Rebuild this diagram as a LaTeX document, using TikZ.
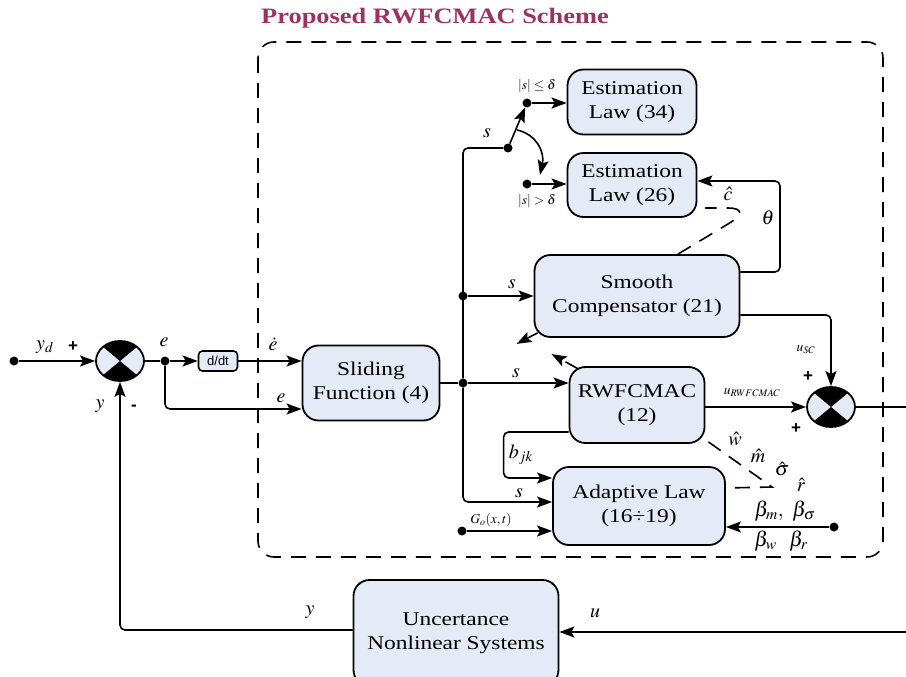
\documentclass[tikz,border=0pt]{standalone}
\usepackage{amsmath}
\usepackage{mathptmx}
\usepackage{fontspec}
\setmainfont[FakeStretch=1.2]{Liberation Serif}
\setsansfont{Liberation Sans}
\usetikzlibrary{arrows.meta, positioning, shapes.geometric}
\definecolor{blockfill}{RGB}{228,235,246}
\definecolor{titlered}{RGB}{155,50,100}

\begin{document}
\begin{tikzpicture}[x=1pt, y=-1pt,
    % Styles
    block/.style={draw, line width=1.8pt, rounded corners=16pt, fill=blockfill, align=center,
        font=\fontsize{19.5}{24}\selectfont, inner sep=2pt},
    ddtblock/.style={draw, line width=1.6pt, rounded corners=4pt, fill=blockfill,
        font=\sffamily\fontsize{13}{13}\selectfont, inner sep=1pt, minimum width=39pt, minimum height=20pt},
    sumjunc/.style={ellipse, draw, line width=1.8pt, fill=blockfill, minimum width=48pt, minimum height=40pt, inner sep=0pt,
        path picture={
            \fill[black] (path picture bounding box.center) -- (path picture bounding box.north east) -- (path picture bounding box.north west) -- cycle;
            \fill[black] (path picture bounding box.center) -- (path picture bounding box.south east) -- (path picture bounding box.south west) -- cycle;}},
    wire/.style={line width=1.6pt},
    arrowstyle/.style={wire, -{Stealth[length=15pt, width=11pt, inset=3pt]}},
    paramline/.style={line width=1.6pt, dash pattern=on 15pt off 10pt},
    dot/.style={circle, fill, inner sep=0pt, minimum size=9pt},
    sig/.style={font=\fontsize{20}{20}\selectfont, inner sep=0pt},
    smallsig/.style={font=\fontsize{13.5}{13.5}\selectfont, inner sep=0pt},
    plus/.style={font=\sffamily\bfseries\fontsize{17}{17}\selectfont, inner sep=0pt},
]
    \useasboundingbox (0,0) rectangle (906,677);

    % Proposed scheme frame and title
    \draw[paramline, rounded corners=16pt] (258,42) rectangle (883,557);
    \node[font=\bfseries\fontsize{22}{22}\selectfont, text=titlered] (title) at (435,18) {Proposed RWFCMAC Scheme};

    % Blocks
    \node[block, minimum width=129pt, minimum height=65pt] (est34) at (632,102) {Estimation\\Law (34)};
    \node[block, minimum width=129pt, minimum height=64pt] (est26) at (632,185) {Estimation\\Law (26)};
    \node[block, minimum width=205pt, minimum height=82pt] (smooth) at (637,296) {Smooth\\Compensator (21)};
    \node[block, minimum width=135pt, minimum height=76pt] (rwf) at (637,405) {RWFCMAC\\(12)};
    \node[block, minimum width=172pt, minimum height=78pt] (adapt) at (639,506) {Adaptive Law\\(16÷19)};
    \node[block, minimum width=137pt, minimum height=75pt] (slide) at (371,383) {Sliding\\Function (4)};
    \node[block, minimum width=205pt, minimum height=106pt] (plant) at (456,633) {Uncertance\\Nonlinear Systems};
    \node[ddtblock] (ddt) at (218,361) {d/dt};

    % Summing junctions
    \node[sumjunc] (sumA) at (120,361) {};
    \node[sumjunc] (sumB) at (831,407) {};

    % Junction dots and free ends
    \node[dot] (jIn) at (14,361) {};
    \node[dot] (jE) at (165,361) {};
    \node[dot] (jS) at (463,383) {};
    \node[dot] (jSC) at (463,296) {};
    \node[dot] (swBase) at (508,148) {};
    \node[dot] (swUp) at (527,103) {};
    \node[dot] (swLow) at (527,184) {};
    \node[dot] (jG) at (462,531) {};
    \node[dot] (jB) at (834,527) {};
    \coordinate (arcStart) at (517,130);
    \coordinate (arcEnd) at (540,175);
    \coordinate (thetaTurn) at (780,181);
    \coordinate (uTurn) at (930,407);

    % Error path
    \draw[arrowstyle] (jIn) -- (sumA.west);
    \draw[wire] (sumA.east) -- (jE);
    \draw[arrowstyle] (jE) -- (ddt.west);
    \draw[arrowstyle] (ddt.east) -- (ddt.east -| slide.west);
    \draw[arrowstyle, rounded corners=5pt] (jE) |- ([yshift=-26pt]slide.west);

    % Sliding variable bus
    \draw[wire] (slide.east) -- (jS);
    \draw[wire, rounded corners=5pt] (jS) |- (swBase);
    \draw[arrowstyle, rounded corners=5pt] (jS) |- ([yshift=4pt]adapt.west);
    \draw[arrowstyle] (jSC) -- (smooth.west);
    \draw[arrowstyle] (jS) -- (jS -| rwf.west);

    % Switch between estimation laws
    \draw[arrowstyle] (swBase) -- (swUp);
    \draw[arrowstyle] (swUp) -- (swUp -| est34.west);
    \draw[arrowstyle] (swLow) -- (swLow -| est26.west);
    \draw[arrowstyle] (arcStart) .. controls (536,134) and (545,152) .. (arcEnd);

    % Compensator outputs
    \draw[arrowstyle, rounded corners=5pt] ([yshift=24pt]smooth.east) -| (thetaTurn) -- (thetaTurn -| est26.east);
    \draw[arrowstyle, rounded corners=5pt] ([yshift=-19pt]smooth.east) -| (sumB.north);
    \draw[arrowstyle] (rwf.east |- sumB.west) -- (sumB.west);
    \draw[arrowstyle, rounded corners=5pt] ([yshift=-27pt]rwf.west) -- ++(-65,0) |- ([yshift=28pt]adapt.west);
    \draw[arrowstyle] (jG) -- (jG -| adapt.west);
    \draw[arrowstyle] (jB) -- (jB -| adapt.east);

    % Plant loop
    \draw[arrowstyle, rounded corners=5pt] (sumB.east) -- (uTurn) |- ([yshift=1pt]plant.east);
    \draw[arrowstyle, rounded corners=5pt] ([yshift=3pt]plant.west) -| (sumA.south);

    % Parameter update paths (dashed)
    \draw[paramline] ([xshift=41pt]smooth.north) -- (728,224) .. controls (745,214) and (742,208) .. (728,208) -- (705,208);
    \draw[paramline] ([shift={(3,-2)}]rwf.south east) -- (772,487) -- ([yshift=18pt]adapt.east);
    \draw[paramline, -{Stealth[length=15pt, width=11pt, inset=3pt]}] ([shift={(4,-5)}]smooth.south west) -- ++(-21,11);
    \draw[paramline, -{Stealth[length=15pt, width=11pt, inset=3pt]}] ([shift={(10,3)}]rwf.north west) -- ++(-27,-15);

    % Signal labels
    \node[sig] (lblYd) at (45,347) {$y_d$};
    \node[plus] (lblPlusA) at (73,347) {+};
    \node[sig] (lblE1) at (164,342) {$e$};
    \node[sig] (lblEdot) at (273,344) {$\dot{e}$};
    \node[sig] (lblE2) at (281,398) {$e$};
    \node[sig] (lblY1) at (100,406) {$y$};
    \node[plus] (lblMinus) at (134,408) {-};
    \node[sig] (lblS1) at (487,133) {$s$};
    \node[smallsig] (lblLe) at (537,86) {$|s|\le\delta$};
    \node[smallsig] (lblGt) at (537,201) {$|s|>\delta$};
    \node[sig] (lblS2) at (512,284) {$s$};
    \node[sig] (lblS3) at (516,373) {$s$};
    \node[sig] (lblBjk) at (521,455) {$b_{jk}$};
    \node[sig] (lblS4) at (519,493) {$s$};
    \node[smallsig] (lblGo) at (491,520) {$G_o(x,t)$};
    \node[sig] (lblC) at (728,194) {$\hat{c}$};
    \node[sig] (lblTheta) at (768,218) {$\theta$};
    \node[smallsig] (lblUsc) at (806,350) {$u_{SC}$};
    \node[plus] (lblPlusB) at (808,377) {+};
    \node[smallsig] (lblUrw) at (752,393) {$u_{RWFCMAC}$};
    \node[plus] (lblPlusC) at (796,429) {+};
    \node[sig] (lblW) at (735,439) {$\hat{w}$};
    \node[sig] (lblM) at (758,456) {$\hat{m}$};
    \node[sig] (lblSigma) at (782,469) {$\hat{\sigma}$};
    \node[sig] (lblR) at (801,485) {$\hat{r}$};
    \node[sig, font=\fontsize{21}{21}\selectfont] (lblBetaA) at (785,511) {$\beta_m,\ \beta_\sigma$};
    \node[sig, font=\fontsize{21}{21}\selectfont] (lblBetaB) at (781,541) {$\beta_w\ \ \beta_r$};
    \node[sig] (lblY2) at (310,612) {$y$};
    \node[sig] (lblU) at (595,613) {$u$};

\end{tikzpicture}
\end{document}
